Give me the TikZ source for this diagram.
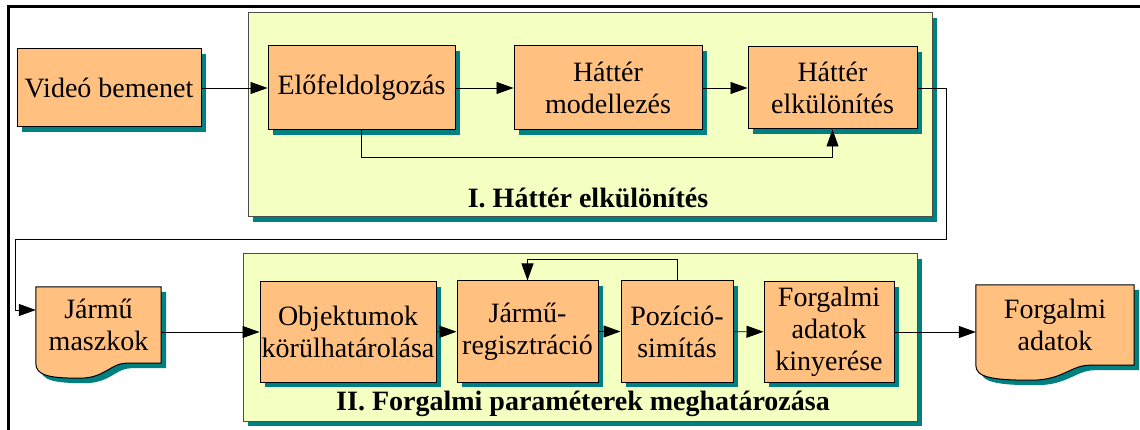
\documentclass[tikz,border=0pt]{standalone}
\usepackage{fontspec}
\setmainfont{Liberation Serif}
\usepackage{tikz}
\usetikzlibrary{
  arrows.meta,
  calc,
  shadows,
  backgrounds,
}
\definecolor{boxorange}{HTML}{FFC080}
\definecolor{grpyellow}{HTML}{F4FFC2}
\definecolor{shadeteal}{HTML}{008080}

\tikzset{
  tshadow/.style={drop shadow={shadow xshift=5pt, shadow yshift=-5pt, fill=shadeteal, opacity=1}},
  boxfont/.style={font=\rmfamily\fontsize{28}{32}\selectfont},
  procbox/.style={draw=black, line width=1pt, fill=boxorange, tshadow, align=center, inner sep=1pt, boxfont},
  docbox/.style={align=center, inner sep=1pt, boxfont},
  groupbox/.style={draw=black!70, line width=1pt, fill=grpyellow, tshadow, inner sep=0pt},
  titletext/.style={font=\rmfamily\bfseries\fontsize{28}{32}\selectfont},
  arr/.style={-{Triangle[length=17pt,width=12pt]}, line width=0.8pt},
}

% document symbol round a node
\newcommand{\docshape}[1]{%
  \begin{scope}[on background layer]
    \draw[line width=1pt, fill=boxorange, tshadow]
      (#1.north west) -- (#1.north east) -- (#1.south east)
      -- ($(#1.south west)!0.72!(#1.south east)$)
      .. controls ($(#1.south west)!0.6!(#1.south east)$) and ($(#1.south west)!0.55!(#1.south east)+(0,15)$) .. ($(#1.south west)!0.35!(#1.south east)+(0,15)$)
      .. controls ($(#1.south west)!0.1!(#1.south east)+(0,15)$) and ($(#1.south west)+(0,12)$) .. (#1.south west) -- cycle;
  \end{scope}}

\begin{document}
\begin{tikzpicture}[x=1pt, y=-1pt]
  \useasboundingbox (0,0) rectangle (1140,430);
  \draw[line width=3pt] (8,432) -- (8,7) -- (1142,7);

  % groups
  \node[groupbox, minimum width=684pt, minimum height=204pt] (grp1) at (590,115) {};
  \node[groupbox, minimum width=674pt, minimum height=167pt] (grp2) at (580,337.5) {};
  \node[titletext] (title1) at (588,198) {I. Háttér elkülönítés};
  \node[titletext] (title2) at (583,404) {II. Forgalmi paraméterek meghatározása};

  % first row
  \node[procbox, minimum width=184pt, minimum height=78pt] (video) at (109,88) {Videó bemenet};
  \node[procbox, minimum width=187pt, minimum height=84pt] (elo) at (361.5,88) {Előfeldolgozás};
  \node[procbox, minimum width=188pt, minimum height=84pt] (modell) at (608,88) {Háttér\\modellezés};
  \node[procbox, minimum width=169pt, minimum height=82pt] (hkul) at (832.5,88) {Háttér\\elkülönítés};

  % second row
  \node[docbox, minimum width=125pt, minimum height=76pt] (maszk) at (98.5,325) {Jármű\\maszkok};
  \node[procbox, minimum width=176pt, minimum height=100pt] (obj) at (348,332) {Objektumok\\körülhatárolása};
  \node[procbox, minimum width=141pt, minimum height=101pt] (jreg) at (527.5,331.5) {Jármű-\\regisztráció};
  \node[procbox, minimum width=112pt, minimum height=101pt] (pozi) at (677,331.5) {Pozíció-\\simítás};
  \node[procbox, minimum width=130pt, minimum height=100pt] (kinyer) at (829,332) {Forgalmi\\adatok\\kinyerése};
  \node[docbox, minimum width=158pt, minimum height=80pt] (fadat) at (1055,325) {Forgalmi\\adatok};
  \docshape{maszk}
  \docshape{fadat}

  % connectors
  \draw[arr] (video) -- (elo);
  \draw[arr] (elo) -- (modell);
  \draw[arr] (modell) -- (hkul);
  \draw[arr] (elo.south) -- ++(0,27) -| (hkul.south);
  \draw[arr] (hkul.east) -- ++(29,0) -- ++(0,151) -- (15,239) |- ([yshift=15pt]maszk.west);
  \draw[arr] (obj.west -| maszk.east) -- (obj.west);
  \draw[arr] (obj) -- (jreg);
  \draw[arr] (jreg) -- (pozi);
  \draw[arr] (pozi) -- (kinyer);
  \draw[arr] (pozi.north) -- ++(0,-21) -| (jreg.north);
  \draw[arr] (kinyer.east) -- (kinyer.east -| fadat.west);
\end{tikzpicture}
\end{document}
